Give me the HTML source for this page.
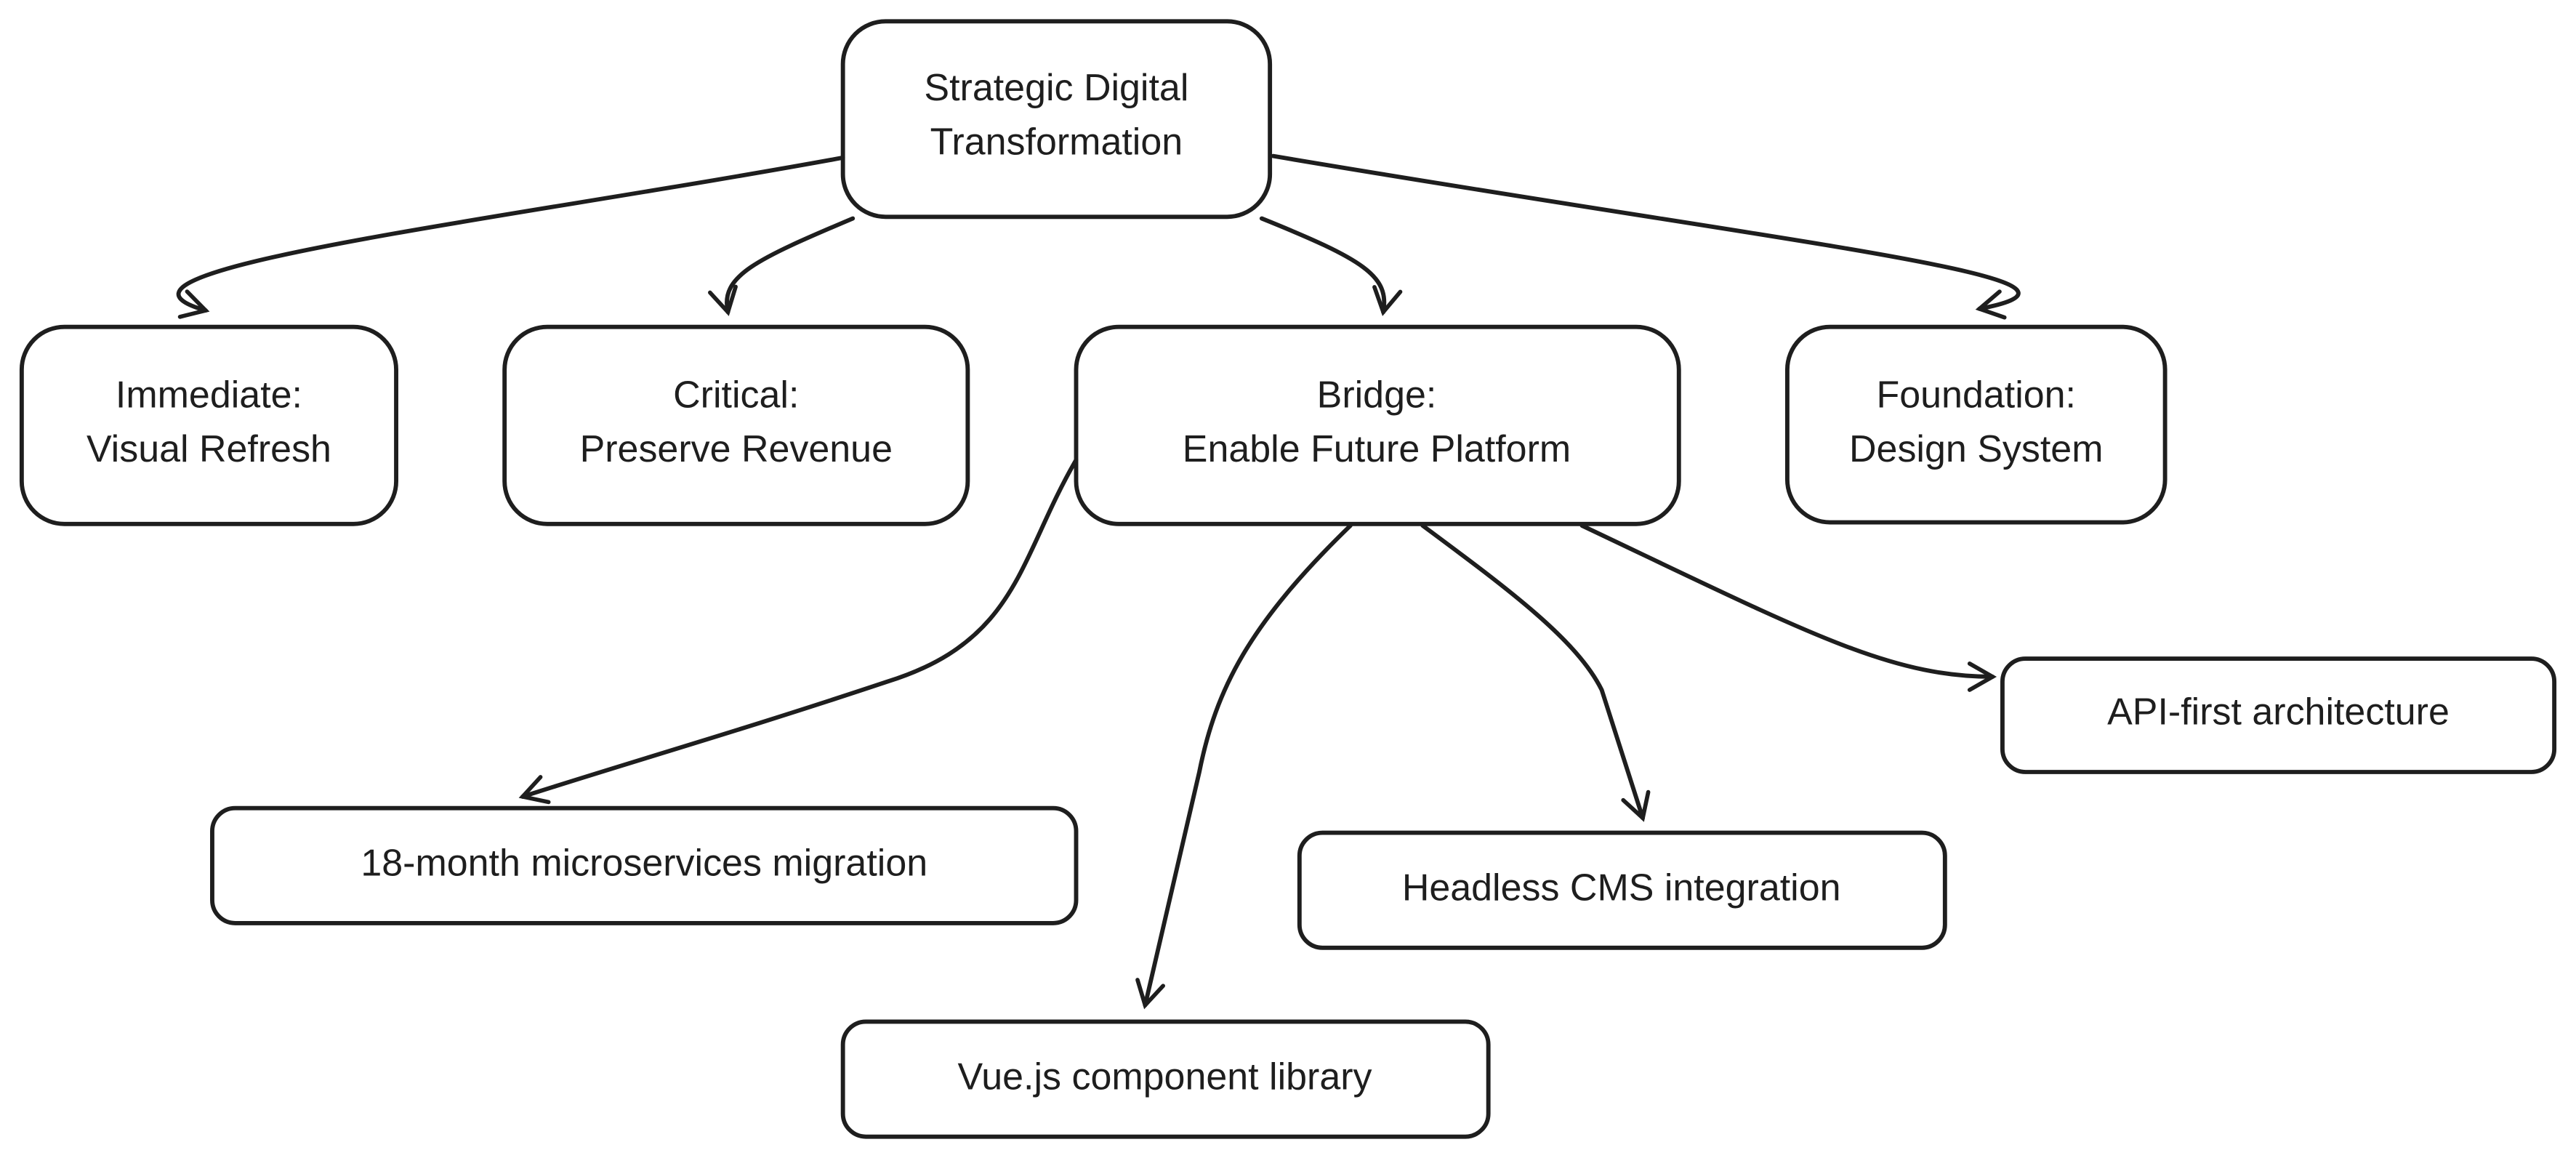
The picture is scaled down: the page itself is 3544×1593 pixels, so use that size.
<!DOCTYPE html>
<html><head><meta charset="utf-8"><style>
html,body{margin:0;padding:0;background:#fff;}
svg{display:block}
text{font-family:"Liberation Sans",sans-serif;font-size:23px;fill:#1e1e1e;text-anchor:middle;dominant-baseline:middle}
</style></head><body>
<svg width="3544" height="1593" viewBox="0 0 1568 705" xmlns="http://www.w3.org/2000/svg">
<defs>
<marker id="a" viewBox="-16 -10 20 20" markerWidth="20" markerHeight="20" refX="0" refY="0" orient="auto" markerUnits="userSpaceOnUse">
<path d="M-14,-8 L0,0 L-14,8" fill="none" stroke="#1e1e1e" stroke-width="2.5" stroke-linecap="round"/>
</marker>
</defs>
<g fill="none" stroke="#1e1e1e" stroke-width="2.6" stroke-linecap="round">
<rect x="513" y="13" width="260" height="119" rx="26"/>
<rect x="13" y="199" width="228" height="120" rx="26"/>
<rect x="307" y="199" width="282" height="120" rx="26"/>
<rect x="655" y="199" width="367" height="120" rx="26"/>
<rect x="1088" y="199" width="230" height="119" rx="26"/>
<rect x="129" y="492" width="526" height="70" rx="14"/>
<rect x="791" y="507" width="393" height="70" rx="14"/>
<rect x="1219" y="401" width="336" height="69" rx="14"/>
<rect x="513" y="622" width="393" height="70" rx="14"/>
<g marker-end="url(#a)">
<path d="M513,96 C300,135 40,165 125,189"/>
<path d="M519,133 C460,158 438,168 443,190"/>
<path d="M768,133 C830,158 846,168 842,190"/>
<path d="M775,95 C1100,150 1300,170 1205,188"/>
<path d="M655,280 C620,340 620,390 540,415 C450,445 380,465 318,485"/>
<path d="M822,320 C760,380 740,420 730,470 L697,612"/>
<path d="M866,320 C920,360 960,390 975,420 L1000,498"/>
<path d="M963,320 C1100,385 1150,412 1213,412"/>
</g>
</g>
<text x="643" y="55">Strategic Digital</text>
<text x="643" y="88">Transformation</text>
<text x="127" y="242">Immediate:</text>
<text x="127" y="275">Visual Refresh</text>
<text x="448" y="242">Critical:</text>
<text x="448" y="275">Preserve Revenue</text>
<text x="838" y="242">Bridge:</text>
<text x="838" y="275">Enable Future Platform</text>
<text x="1203" y="242">Foundation:</text>
<text x="1203" y="275">Design System</text>
<text x="392" y="527">18-month microservices migration</text>
<text x="987" y="542">Headless CMS integration</text>
<text x="1387" y="435">API-first architecture</text>
<text x="709" y="657">Vue.js component library</text>
</svg>
</body></html>
